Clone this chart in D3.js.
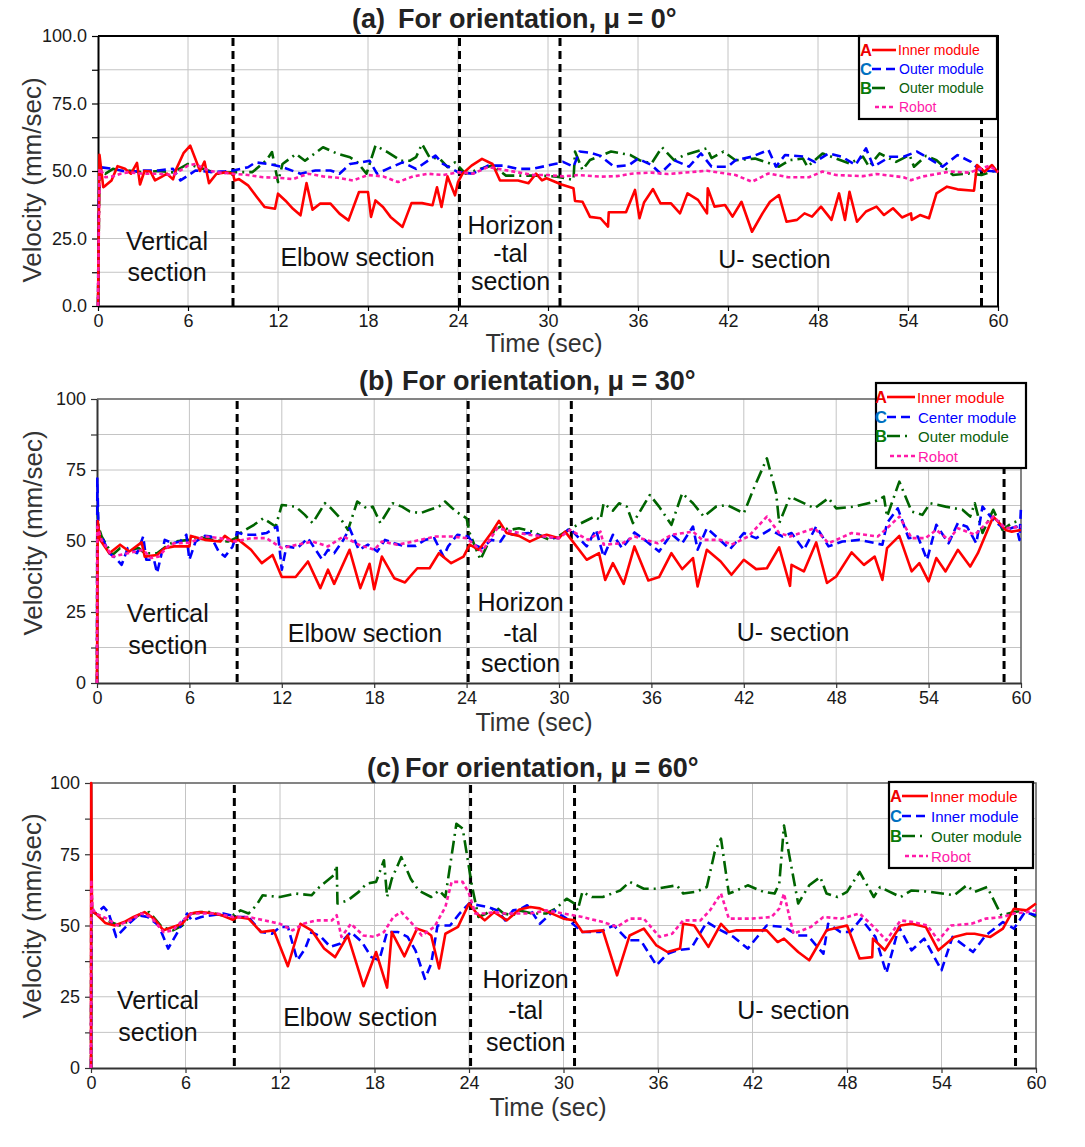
<!DOCTYPE html>
<html>
<head>
<meta charset="utf-8">
<script src="https://cdn.jsdelivr.net/npm/d3@7"></script>
<style>
body { margin: 0; background: #fff; }
text { font-family: "Liberation Sans", Arial, sans-serif; }
</style>
</head>
<body>
<svg id="chart" width="1085" height="1147"></svg>
<script>
// ---- data: [time (s), velocity (mm/s)] ----

// (a) mu = 0
var innerA = [[0,0],[0.1,56],[0.35,44],[0.5,44.6],[0.9,46.5],[1.3,51.8],[1.8,50.8],[2.2,49],[2.6,53],[2.8,45],[3.1,50],[3.5,49.8],[3.8,46.5],[4.2,47.7],[4.6,49],[5,46.9],[5.2,50.5],[5.7,56.6],[6.15,59.4],[6.8,50],[7.1,53.5],[7.4,45.5],[7.9,49],[8.5,49.5],[9,49],[9.1,46.5],[9.4,47],[10,44.7],[10.6,40.3],[11.1,36.7],[11.8,36],[12,41.6],[12.5,39],[13,36],[13.5,33.6],[13.9,45.5],[14.3,35.7],[14.8,37.9],[15.5,37.9],[16.1,34.2],[16.7,31.7],[17.4,42.2],[18,42.2],[18.2,33],[18.5,39.1],[19,36.7],[19.5,33],[20.3,29.3],[20.9,38.1],[21.6,38.1],[22.3,37.3],[22.6,44],[22.9,36.7],[23.3,48],[23.8,41],[24,45.9],[24.3,49],[24.9,52],[25.6,54.5],[26.3,52.6],[26.8,46.5],[28,46.5],[28.7,45.5],[29.2,49],[29.6,46.5],[29.9,47.3],[30.9,45],[31.7,43.6],[31.8,38.9],[32.3,38.6],[32.8,33],[33.5,32.5],[34,29.4],[34.05,34.7],[35.2,34.7],[35.8,43],[36.1,32.5],[36.4,38.3],[37,43.3],[37.5,38],[38.2,38],[38.8,34.3],[39.3,41.7],[40,39.3],[40.6,34.3],[40.65,43.6],[41.1,36.8],[41.8,37.4],[42.3,33.1],[42.9,38.6],[43.6,27.5],[44.3,34.3],[44.8,38.6],[45.4,41.1],[45.9,31.2],[46.6,31.9],[47.1,34.3],[47.6,33.1],[48.2,36.8],[48.9,31.9],[49.4,41.7],[49.8,31.9],[50.1,42.3],[50.6,31.2],[51.2,35],[51.9,36.8],[52.4,33.7],[53,36.2],[53.6,32.8],[54.2,34.3],[54.25,31.9],[54.8,33.7],[55.4,32.5],[55.9,41.7],[56.6,44.2],[57.3,43.2],[58.4,42.7],[58.6,52.2],[59.1,49.7],[59.6,52.2],[60,49.4]]
var centerA = [[0,0],[0.05,40],[0.15,51.4],[1,50.8],[2,49.6],[3,50.2],[4,50.2],[5,50.8],[5.5,46.5],[6.5,50.2],[7.5,49.6],[8.5,49.9],[9,50.2],[10,51.4],[10.5,53.2],[11.4,52.6],[12.2,51.6],[13.5,49],[14.5,50.2],[15.5,50.2],[16.1,49],[16.8,52.6],[17.5,53.2],[18.1,53.8],[18.6,49],[19.3,50.8],[20.3,53.2],[21.2,50.8],[22.5,55.7],[23,52.6],[24,49.6],[25,49],[26,52],[27,52],[28,50.8],[29,50.8],[30.6,52.8],[31,53.4],[31.7,51.6],[32.1,57.2],[32.8,56.8],[33.5,55.6],[34.4,51.6],[35.4,52.2],[36,54.6],[36.9,52.2],[37.5,49.1],[38.4,54],[39.4,51.6],[40.2,56.5],[40.9,51.6],[42,51.6],[42.5,54],[43.6,55.3],[44.7,57.8],[45.2,51.6],[45.8,55.9],[47.1,55.3],[47.8,53.3],[48.7,56.5],[49.6,55.3],[50.5,52.2],[51.2,58.4],[51.7,51.6],[52.8,55.3],[53.7,55.3],[54.6,57.2],[55.2,55.3],[56.3,51.6],[57.3,55.9],[58.2,53.4],[58.8,50.3],[59.9,49.8]]
var outerA = [[0,0],[0.1,52],[0.5,49],[1,50.8],[1.5,50],[2,50.2],[3,49.5],[4,50],[5,49.5],[6,52.6],[7,50.8],[8,49],[9,49.6],[10.3,49.6],[11.2,53.8],[11.6,57],[12,45.9],[12.3,52.6],[13.2,56.3],[13.8,53.8],[15,58.8],[16,56.3],[16.8,55.1],[17.3,53.2],[17.9,49],[18.5,59.4],[19.3,57],[20.2,53.8],[20.8,53.8],[21.2,55.1],[21.6,60],[22.1,55.1],[22.8,54.5],[23.3,51.4],[23.8,53.2],[24.5,49],[25.5,50.8],[26.3,52],[27.2,48.3],[28.5,48.3],[29.5,48.3],[30.6,47.9],[31.7,46.7],[31.8,57.2],[32.3,50.4],[32.8,54.1],[33.5,55.6],[34.2,57.2],[35.5,55.9],[36.1,54],[36.9,52.8],[37.6,58.8],[38.4,54],[39.1,55.9],[40.6,58.4],[40.9,54.8],[41.7,57.2],[42.5,54],[43.8,54.6],[44.5,53.4],[45.4,51.6],[46.1,54],[47,54.6],[47.3,51.6],[48.3,56.5],[49.2,54.6],[50.1,52.8],[51,55.3],[51.4,51.6],[52.1,56.5],[53.2,53.4],[54.1,55.9],[54.4,51.6],[55.2,55.6],[55.9,54],[57,48.5],[58.1,49.1],[58.9,48.5],[59.9,50.3]]
var robotA = [[0,0],[0.1,51],[0.5,47.7],[1,48],[1.5,49],[2,49.5],[3,49],[4,49],[5,48.5],[6,52],[6.5,52.6],[7,51],[7.5,50],[8,49.5],[9,49],[10,48.5],[11,47.7],[12,47.5],[13,47],[14,49],[15,48],[16,47.5],[17,46.5],[18,48.5],[19,48],[20,45.9],[21,48],[22,49],[23,48.5],[24,49.5],[25,49],[26,51.5],[27,50.5],[28,49.5],[29,48.5],[30,48.5],[31,48],[32,48.5],[33.5,47.9],[34.6,48.1],[35.7,49.1],[36.9,49.4],[38,48.9],[39.1,49.4],[40.6,50.1],[42.5,48.5],[43.6,46],[44.7,49.1],[46,47.7],[47.4,47.7],[48.3,49.8],[49.2,48.5],[51,48.1],[51.9,48.9],[53.7,47.7],[54.2,46.6],[55,48],[55.9,48.9],[56.8,49.8],[58.1,49.4],[59.4,51.9],[60,49.8]]

// (b) mu = 30
var innerB = [[0,0],[0.05,57],[0.2,50.4],[0.8,45.7],[1.5,48.7],[2.1,46.3],[2.9,49.5],[3.1,44.5],[3.9,45.1],[4.4,47.5],[5,48.1],[6,48.1],[6.1,51.8],[7,50.4],[8,49.8],[8.3,51.8],[8.8,49.8],[9.2,50.4],[10,46.9],[10.7,42.2],[11.4,45.1],[12,37.3],[12.9,37.3],[13.7,42.8],[14.5,33.4],[15,39.9],[15.4,34.9],[16.4,46.9],[17.1,33.4],[17.7,42],[18,33],[18.5,44.5],[19.3,36.9],[20,35.4],[20.8,40.4],[21.6,40.4],[22.2,45.7],[23,42.2],[23.8,44.5],[24.2,48.7],[24.8,46.9],[25.6,52.8],[26.1,57.1],[26.6,52.8],[27.4,51.8],[28.1,49.8],[28.9,51.8],[29.2,52.2],[30,51],[30.4,53.3],[31.8,43.4],[32.6,45.7],[33,36.3],[33.5,42.2],[34.2,34.9],[34.9,48.1],[35.8,36.1],[36.5,37.3],[37.3,45.7],[38,40.1],[38.7,44],[39,34],[39.6,46.9],[40.5,42.8],[41.2,38.1],[42,43.4],[42.8,40.1],[43.5,40.4],[44.3,47.8],[45,34.2],[45.1,41.6],[45.9,39.3],[46.7,49.5],[47.4,35.2],[48,37.5],[49,46],[49.8,41.6],[50.5,44.5],[51,36.3],[51.3,47.5],[52.1,51.8],[52.9,39.3],[53.4,42.2],[54,35.8],[54.5,44],[55.1,39.3],[55.9,46.9],[56.7,41],[57.2,45.7],[58.2,58.6],[59,53.9],[59.4,53.3],[60,53.9]]
var centerB = [[0,0],[0.02,72],[0.1,53],[0.3,51.6],[0.8,45.7],[1.2,44],[1.6,41.6],[2,47.5],[2.6,45.7],[3,51.6],[3.2,43.4],[3.7,43.4],[3.9,38.7],[4.4,50.4],[4.9,49.2],[5.4,49.8],[5.8,52.2],[6,43.4],[6.4,49.8],[7,51.8],[7.4,51.6],[7.9,46.3],[8.3,44.5],[8.8,48],[9.1,53],[9.6,52.2],[10.3,52.2],[11,52.8],[11.7,55.1],[12,39.9],[12.3,48.1],[13,47.5],[13.7,51],[14.6,43.6],[15,46.9],[15.4,45.7],[16,50.4],[16.4,54.5],[17,46.9],[17.6,48.7],[18.2,46.3],[18.7,50.4],[19.3,49.2],[19.9,48.3],[20.7,48.3],[21.3,50.4],[21.9,51],[22.5,44.5],[22.8,48.1],[23.4,52.2],[24.1,51.6],[24.5,48.7],[25,47.5],[25.6,50.4],[26.2,49.8],[26.6,53],[27,52.2],[28,52.8],[29,51.6],[30,51],[30.7,54.5],[31.8,48.1],[32.4,54],[32.9,44.5],[33.5,52.2],[34.1,47.5],[34.9,53],[35.7,49.8],[36.5,46.3],[37.3,52.5],[38,49.2],[38.7,55.1],[39,46.9],[39.6,54.5],[40.2,51.6],[41.1,47.1],[42,52.8],[42.8,51],[43.7,54],[44.5,51.6],[45.1,52.8],[45.9,46.9],[46.7,55.1],[47.5,48.1],[48.4,49.8],[49.5,50.4],[51,48.7],[51.3,56.3],[52,61.5],[52.7,51],[53.3,51.6],[53.9,43.4],[54.5,55.7],[55.3,49.2],[55.9,56.3],[56.5,55],[57.1,49.2],[57.5,62.1],[58.2,57.4],[59,53.9],[59.7,55.1],[59.9,50.4],[60,62.1]]
var outerB = [[0,0],[0.02,62],[0.1,55],[0.3,51.6],[1,45.1],[1.5,47.5],[2.2,46.9],[2.7,47.5],[3.1,45.7],[3.9,45.7],[4.5,48.1],[5,49.8],[6,50.4],[6.5,51.6],[7.5,50.4],[8.5,49.8],[9,51],[9.3,52.8],[10.2,55.7],[10.8,58],[11.6,55.1],[12,62.7],[12.9,62.1],[13.5,59.2],[14,56.3],[14.8,63.3],[15.2,61.5],[15.8,58],[16.3,53.9],[16.9,63.9],[17.5,61.5],[17.9,62.1],[18.4,56.3],[19.2,63.3],[19.8,62.1],[20.3,60.4],[21,59.8],[21.6,61],[22.2,62.1],[22.6,63.9],[23.3,60.4],[24,58],[24.2,52.8],[24.5,48.7],[24.9,43.4],[25.3,48.1],[25.8,53.9],[26.2,55.1],[26.8,53.9],[27.4,54.5],[28.3,53.3],[28.9,51.6],[29.4,50.4],[30,51.8],[31,55.1],[32.3,58.6],[32.7,57.4],[32.9,63.3],[33.5,60.7],[33.9,63.3],[34.4,62.1],[34.8,56.3],[35.9,66.2],[36.5,62.1],[37.3,55.7],[38,66.8],[38.7,63.3],[39.4,58.6],[40.2,62.1],[40.9,62.7],[42,59.8],[42.7,69.2],[43.5,79.1],[44.1,66.8],[44.3,56.3],[45,65.6],[46.6,61.5],[47.5,65.1],[48,61.5],[49.2,62.1],[50.5,63.9],[51.1,65.6],[51.3,58.6],[52.1,70.9],[52.9,60.4],[53.6,59.2],[54.1,63.3],[55.1,62.1],[56.2,61],[56.7,58.6],[57,63.3],[57.5,52.8],[58.2,61],[58.8,53.9],[59.4,56.3],[60,57.4]]
var robotB = [[0,0],[0.02,55],[0.3,50.4],[1,44.5],[2,45.7],[3,46.9],[3.5,44],[4,44.5],[4.6,48.1],[5,49.2],[6,49.4],[7,51.6],[8,51],[9,49.8],[10,51],[11,51],[12,47.5],[13,48.7],[14,49.8],[15,48.1],[16,51.6],[17,48.7],[18,46.9],[18.5,49.8],[19.5,48.7],[20,49.2],[21,50.4],[22,51.6],[23,51.6],[24,51],[25,46.3],[26,54.5],[27,53.3],[28,52.2],[29,51.6],[30,51],[30.7,53.9],[31.9,50.4],[32.7,53.3],[32.9,48.7],[34.1,49.2],[34.9,51.6],[36.4,49.2],[37.3,52.2],[38.7,53.3],[39.3,50.4],[40.5,50.4],[41.2,48.7],[42.3,51.6],[43.5,58.6],[44.3,52.8],[45,51.6],[46.6,54.5],[47.5,49.2],[49,52.8],[50.7,51.6],[51.3,54.5],[52.1,58.6],[52.9,51],[53.8,51],[54.5,53.9],[55.3,50.4],[55.9,54.5],[57,52.2],[58.2,58.6],[59,54.5],[60,55.1]]

// (c) mu = 60
var innerC = [[0,0],[0.01,100],[0.06,55],[0.3,54.2],[0.9,50.9],[1.5,50],[2.1,51.2],[2.7,53],[3.4,54.7],[4,52.4],[4.6,48.3],[5.2,49.5],[5.8,50.6],[6.3,54.2],[6.9,54.7],[7.6,54.4],[8.3,53.6],[9,52],[9.3,53],[10,52.4],[10.8,47.7],[11.6,48.3],[12.5,35.7],[13.3,50.6],[14,48.3],[14.8,41.9],[15.5,38.9],[16.3,46.5],[17.3,28.7],[18.1,40.7],[18.8,28.2],[19.1,47.7],[19.9,39.2],[20.7,48.9],[21.3,47.7],[21.6,46.5],[22.1,34.9],[22.5,47.1],[23.3,49.5],[24,57.7],[24.5,54.2],[25,51.8],[25.6,54.7],[26.4,51.8],[27.2,55.6],[27.9,56.5],[28.5,56],[30,52.4],[30.7,51.8],[31.2,47.7],[32.5,48.3],[33.4,32.5],[34.2,46.5],[35.1,48.9],[35.9,43],[36.6,40.7],[37.4,41.9],[37.6,50.6],[38.3,50],[39.2,42.5],[40,50.6],[40.5,47.7],[41,48.3],[42.9,48.3],[43.6,44.2],[44,45.4],[44.9,40.7],[45.6,37.8],[46.7,48.3],[48,50],[48.8,38.4],[49.6,38.9],[49.65,45.4],[50.4,41.3],[51.4,50],[52.1,50.6],[53,49.5],[53.8,41.3],[54.8,46],[55.6,47.1],[56.1,47.1],[57.1,46],[57.9,48.9],[58.6,55.9],[59.4,55.3],[60,57.7]]
var centerC = [[0,0],[0.03,55],[0.3,54.2],[0.8,56.5],[1.1,54.7],[1.6,46],[2.4,50.6],[3,53.6],[3.6,53],[4.3,50],[4.9,41.9],[5.5,47.7],[6.1,54.2],[6.4,51.8],[7,53],[7.7,53.6],[8.4,54.2],[9.3,53],[10,53],[10.8,47.7],[11.5,47.1],[12,49.5],[12.5,49.5],[13.1,37.8],[13.6,41.9],[14,47.7],[14.6,46],[15.2,42.5],[15.8,43.6],[16.5,47.7],[17.2,44.2],[17.8,38.9],[18.3,37.8],[18.8,47.7],[19.5,47.7],[20.1,46],[20.6,41.3],[21.2,31.3],[21.6,36.6],[22,50],[22.8,50],[23.4,54.2],[24,57.7],[24.6,57.1],[25.2,56.5],[25.8,55.3],[26.3,51.8],[26.8,55.3],[27.2,55.6],[27.7,57.1],[28.5,50.6],[29.4,55.3],[30.2,52.4],[31.2,47.7],[32.3,47.7],[33.2,50],[34.1,44.8],[34.9,44.8],[35.9,36],[36.6,40.1],[37.2,41.3],[38.1,41.9],[39.1,51.2],[40,48.3],[40.8,46],[41.7,41.9],[42.9,50],[44,49.5],[44.9,46.5],[45.5,46.5],[46.5,40.1],[46.8,50.6],[47.6,47.7],[48.2,47.7],[48.9,52.4],[49.8,46],[50.5,33.3],[51.3,49.5],[52.1,41.3],[52.9,45.4],[54,34.3],[54.7,46],[56,40.7],[56.8,46.5],[57.9,51.2],[58.6,48.9],[59.3,54.7],[60,53.6]]
var outerC = [[0,0],[0.02,68],[0.08,55],[0.3,54.2],[1,51.8],[1.8,50],[2.5,51.8],[3.2,54.2],[3.7,54.7],[4.5,49.5],[5.2,48.3],[5.8,50],[6.4,54.2],[7,54.7],[7.5,54.7],[8.3,53.6],[9,53.6],[9.5,55.3],[10,54.2],[10.5,57.1],[10.9,60.6],[12,60],[13,61.2],[14,60.6],[14.5,63.5],[15.4,67.6],[15.6,71.1],[15.65,57.7],[16.3,58.8],[17,61.8],[17.5,64.7],[18.1,65.3],[18.6,72.9],[18.8,60],[19.1,66.4],[19.7,74],[20.3,66.4],[20.8,62.3],[21.6,60],[22.1,62.3],[22.5,60],[23.2,85.7],[23.6,84],[24.2,63.5],[24.6,53],[25.1,54.2],[25.7,56.5],[26.2,54.2],[26.8,53.6],[27.2,55.3],[28,54.2],[28.9,54.2],[29.5,55.9],[30.2,59.4],[30.7,57.7],[30.9,55.3],[31.2,61.8],[31.8,60],[32.5,60],[33.6,62.3],[34.2,65.3],[35.1,62.9],[35.9,62.9],[37.2,64.1],[37.6,61.2],[38.4,61.8],[39.1,63.5],[39.6,75.8],[40,80.5],[40.5,61.2],[41,62.3],[41.7,64.1],[42.7,61.8],[43.4,61.2],[43.7,64.7],[44,85.1],[44.2,78.7],[44.9,57.7],[45.6,64.1],[46.3,67],[46.7,61.2],[47.4,60],[48,61.8],[48.8,68.8],[49.7,60],[50.1,63.5],[51.4,60],[52.1,62.3],[53.3,61.8],[54.8,60.6],[55.6,64.1],[56.1,61.8],[56.9,63.5],[57.8,53.6],[58.6,54.7],[59.3,55.3],[60,53]]
var robotC = [[0,0],[0.02,66],[0.1,56],[0.3,54.2],[1,52.4],[1.7,50],[2.5,51.8],[3.2,54.2],[3.8,53],[4.6,47.7],[5.2,48.3],[5.8,51.8],[6.4,54.2],[7.3,54.2],[8,54.2],[9,53],[10,53],[11,51.8],[12,50.6],[12.8,48.3],[13.5,50.6],[14.3,51.8],[15.3,51.8],[15.6,53.6],[15.9,46],[16.5,50.6],[17.3,46.5],[18,46],[18.6,47.7],[19.2,53],[19.7,54.7],[20.4,50.6],[21,46.5],[21.8,49.5],[22.5,56.5],[22.9,65.3],[23.6,65.3],[24,61.2],[24.4,54.2],[25,54.2],[25.6,54.7],[26.3,54.2],[27,54.2],[27.9,54.2],[28.9,55.3],[30,54.2],[31.2,53],[32.5,51.2],[33.4,49.5],[34.2,52.4],[35.1,52.4],[36.1,46],[36.9,47.1],[37.6,51.8],[38.7,51.8],[39.3,55.3],[40,61.2],[40.5,52.4],[41.9,52.4],[43.2,53],[43.7,55.9],[44,61.2],[44.6,47.1],[45.7,49.5],[46.5,53],[47.6,52.4],[48.8,54.2],[49.7,49.5],[50.5,44.8],[51.4,51.8],[52.2,51.2],[53.1,50],[53.8,44.8],[54.6,50],[55.9,50.6],[56.8,52.4],[57.9,53],[58.6,54.2],[59.4,54.7],[60,55.3]]

// section boundaries (s) and section captions [text, t, v]
var sectionsA = [9.0, 24.1, 30.8, 58.9]
var sectionsB = [9.1, 24.1, 30.8, 58.9]
var sectionsC = [9.1, 24.1, 30.7, 58.7]
var notesA = [['Vertical',4.6,24.1],['section',4.6,12.6],['Elbow section',17.3,18.3],['Horizon',27.5,30],['-tal',27.5,19.6],['section',27.5,9.3],['U- section',45.1,17.3]]
var notesB = [['Vertical',4.6,24.6],['section',4.6,13.4],['Elbow section',17.4,17.7],['Horizon',27.5,28.6],['-tal',27.5,17.6],['section',27.5,7],['U- section',45.2,18]]
var notesC = [['Vertical',4.25,23.7],['section',4.25,12.6],['Elbow section',17.1,17.8],['Horizon',27.6,31.1],['-tal',27.6,20.2],['section',27.6,9.1],['U- section',44.6,20.2]]

var xTicks = d3.range(0, 61, 6)
var yTicks = d3.range(0, 100.1, 12.5)
var letters = ['A', 'C', 'B', '']
var legendA = ['Inner module', 'Outer module', 'Outer module', 'Robot']
var legendB = ['Inner module', 'Center module', 'Outer module', 'Robot']
var legendC = ['Inner module', 'Inner module', 'Outer module', 'Robot']

// ---- styles: inner, center, outer, robot ----
var styles = [
  { color: '#ff0000', dash: null,       letter: '#ee0000', text: '#ff0000' },
  { color: '#0000ff', dash: '9,5',      letter: '#0070c0', text: '#0000ff' },
  { color: '#006400', dash: '13,5,2,5', letter: '#0a7a0a', text: '#0a5e0a' },
  { color: '#ff1aa8', dash: '4,3',      letter: null,      text: '#ff1aa8' }
]

var panels = [
  { tag: '(a)', title: 'For orientation, μ = 0°', tx: [352, 398, 28],
    box: { l: 98, r: 998, t: 36, b: 306 }, fmt: d3.format('.1f'), dark: true,
    series: [innerA, centerA, outerA, robotA],
    sections: sectionsA, notes: notesA, names: legendA,
    legend: { l: 859, t: 36, r: 997, b: 119, rows: [50, 69, 88, 107], lx: 860, s1: 872, s2: 896, tx: 898, fs: 14 },
    ytitle: [32, 180], xtitle: [544, 352] },
  { tag: '(b)', title: 'For orientation, μ = 30°', tx: [359, 402, 390],
    box: { l: 97, r: 1021, t: 399, b: 683 }, fmt: d3.format('d'), dark: false,
    series: [innerB, centerB, outerB, robotB],
    sections: sectionsB, notes: notesB, names: legendB,
    legend: { l: 876, t: 383, r: 1026, b: 468, rows: [397, 417, 436, 456], lx: 875, s1: 887, s2: 915, tx: 917, fs: 15 },
    ytitle: [33, 533], xtitle: [534, 731] },
  { tag: '(c)', title: 'For orientation, μ = 60°', tx: [367, 405, 777],
    box: { l: 91, r: 1036, t: 783, b: 1068 }, fmt: d3.format('d'), dark: false,
    series: [innerC, centerC, outerC, robotC],
    sections: sectionsC, notes: notesC, names: legendC,
    legend: { l: 889, t: 782, r: 1033, b: 868, rows: [796, 816, 836, 856], lx: 890, s1: 902, s2: 928, tx: 930, fs: 15 },
    ytitle: [32, 916], xtitle: [548, 1116] }
]

var svg = d3.select('#chart')

panels.forEach(function (p) {
  var g = svg.append('g')
  var x = d3.scaleLinear().domain([0, 60]).range([p.box.l, p.box.r])
  var y = d3.scaleLinear().domain([0, 100]).range([p.box.b, p.box.t])
  var axisColor = p.dark ? '#000' : '#333'

  // grid
  g.append('g').selectAll('line').data(xTicks.slice(1)).enter().append('line')
    .attr('x1', function (d) { return x(d) }).attr('x2', function (d) { return x(d) })
    .attr('y1', y(0)).attr('y2', y(100))
    .attr('stroke', '#c4c4c4').attr('stroke-width', 1)
  g.append('g').selectAll('line').data(yTicks.slice(1)).enter().append('line')
    .attr('x1', x(0)).attr('x2', x(60))
    .attr('y1', function (d) { return y(d) }).attr('y2', function (d) { return y(d) })
    .attr('stroke', '#c4c4c4').attr('stroke-width', 1)

  // frame top / right
  g.append('path')
    .attr('d', 'M' + x(0) + ',' + y(100) + 'H' + x(60) + 'V' + y(0))
    .attr('fill', 'none').attr('stroke', p.dark ? '#000' : '#666').attr('stroke-width', p.dark ? 2 : 1.5)

  // axes
  var xa = g.append('g').attr('transform', 'translate(0,' + y(0) + ')')
    .call(d3.axisBottom(x).tickValues(xTicks).tickSize(5).tickSizeOuter(0).tickPadding(3))
  var ya = g.append('g').attr('transform', 'translate(' + x(0) + ',0)')
    .call(d3.axisLeft(y).tickValues(yTicks).tickSize(6).tickSizeOuter(0).tickPadding(5)
      .tickFormat(function (d) { return d % 25 === 0 ? p.fmt(d) : '' }))
  ;[xa, ya].forEach(function (a) {
    a.select('.domain').attr('stroke', axisColor).attr('stroke-width', 2)
    a.selectAll('.tick line').attr('stroke', axisColor).attr('stroke-width', 1.2)
    a.selectAll('.tick text').attr('font-size', 18).attr('fill', '#1a1a1a')
      .attr('font-family', '"Liberation Sans", Arial, sans-serif')
  })

  // section boundaries
  g.append('g').selectAll('line').data(p.sections).enter().append('line')
    .attr('x1', function (d) { return x(d) }).attr('x2', function (d) { return x(d) })
    .attr('y1', y(100) + 2).attr('y2', y(0))
    .attr('stroke', '#000').attr('stroke-width', 3).attr('stroke-dasharray', '8,5')

  // section captions
  g.append('g').selectAll('text').data(p.notes).enter().append('text')
    .attr('x', function (d) { return x(d[1]) })
    .attr('y', function (d) { return y(d[2]) })
    .attr('text-anchor', 'middle').attr('dominant-baseline', 'central')
    .attr('font-size', 25).attr('fill', '#111')
    .text(function (d) { return d[0] })

  // series, outer drawn first and robot last
  var line = d3.line().x(function (d) { return x(d[0]) }).y(function (d) { return y(d[1]) })
  ;[2, 1, 0, 3].forEach(function (k) {
    var st = styles[k]
    g.append('path').datum(p.series[k])
      .attr('d', line)
      .attr('fill', 'none').attr('stroke', st.color).attr('stroke-width', 2.6)
      .attr('stroke-linejoin', 'round')
      .attr('stroke-dasharray', st.dash)
  })

  // titles
  var tt = g.append('text').attr('y', p.tx[2]).attr('font-size', 27).attr('font-weight', 'bold').attr('fill', '#222')
  tt.append('tspan').attr('x', p.tx[0]).text(p.tag)
  tt.append('tspan').attr('x', p.tx[1]).text(p.title)

  g.append('text')
    .attr('transform', 'translate(' + p.ytitle[0] + ',' + p.ytitle[1] + ') rotate(-90)')
    .attr('text-anchor', 'middle').attr('dominant-baseline', 'central')
    .attr('font-size', 26).attr('fill', '#333').text('Velocity (mm/sec)')
  g.append('text')
    .attr('x', p.xtitle[0]).attr('y', p.xtitle[1])
    .attr('text-anchor', 'middle')
    .attr('font-size', 25).attr('fill', '#333').text('Time (sec)')

  // legend
  var L = p.legend
  var lg = g.append('g')
  lg.append('rect').attr('x', L.l).attr('y', L.t).attr('width', L.r - L.l).attr('height', L.b - L.t)
    .attr('fill', '#fff').attr('stroke', '#000').attr('stroke-width', 2.2)
  p.names.forEach(function (name, i) {
    var st = styles[i]
    var ry = L.rows[i]
    if (letters[i]) {
      lg.append('text').attr('x', L.lx).attr('y', ry).attr('dominant-baseline', 'central')
        .attr('font-size', 16.5).attr('font-weight', 'bold').attr('fill', st.letter).text(letters[i])
    }
    lg.append('line').attr('x1', L.s1 + (i === 3 ? 3 : 0)).attr('x2', L.s2 - (i === 2 ? 6 : 0))
      .attr('y1', ry).attr('y2', ry)
      .attr('stroke', st.color).attr('stroke-width', 2.6).attr('stroke-dasharray', st.dash)
    lg.append('text').attr('x', L.tx + (i > 0 ? 1 : 0)).attr('y', ry).attr('dominant-baseline', 'central')
      .attr('font-size', L.fs).attr('fill', st.text).text(name)
  })
})
</script>
</body>
</html>
